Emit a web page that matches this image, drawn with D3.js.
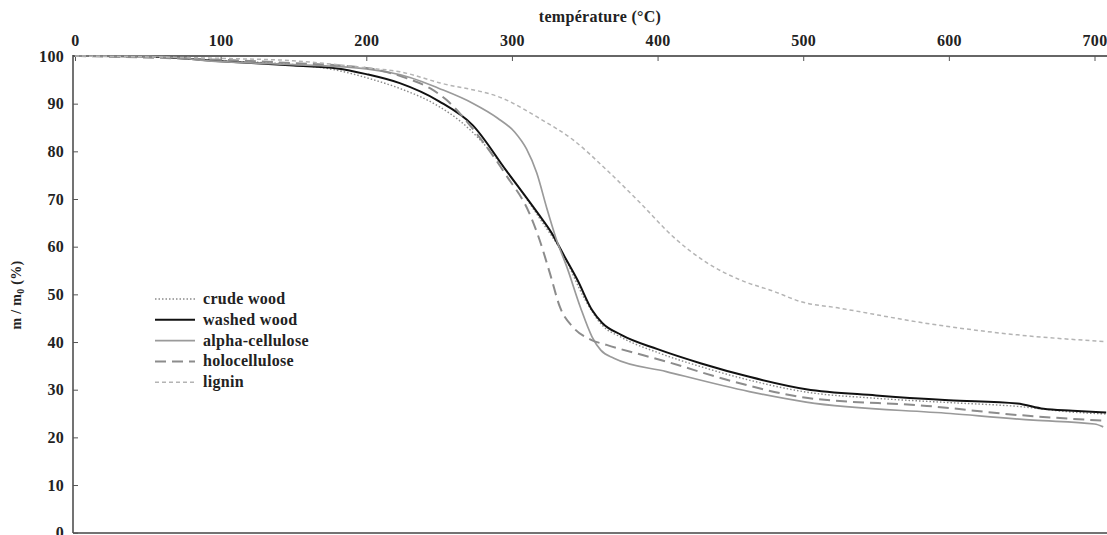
<!DOCTYPE html>
<html>
<head>
<meta charset="utf-8">
<script src="https://cdn.jsdelivr.net/npm/d3@7"></script>
<style>
  body { margin: 0; background: #fff; }
  svg { display: block; }
  .tick text, .lbl { font-family: "Liberation Serif", "DejaVu Serif", serif; font-weight: bold; fill: #222; letter-spacing: 0.3px; }
  .curve { fill: none; }
</style>
</head>
<body>
<div id="chart"></div>
<script>
// temperature (°C) / mass ratio (%)
var crudeWood = [[0,100],[50,99.9],[100,99],[150,98.2],[180,97],[205,95],[223,93.2],[250,89.4],[265,86.2],[296,76],[320,65.5],[335,58.5],[350,49],[362,43.5],[375,41],[400,37.8],[430,34.8],[463,32],[502,29.5],[550,28.2],[600,27.3],[647,26.5],[685,25.3],[708,24.9]];
var washedWood = [[0,100],[50,99.9],[100,98.9],[150,98],[180,97.4],[200,96.2],[223,94.3],[250,90.5],[273,85.5],[296,76],[319,66.5],[327,63],[336,58],[345,53],[355,46.7],[362,44],[375,41.5],[400,38.5],[430,35.5],[463,32.7],[502,30.1],[550,28.8],[600,27.8],[647,27.1],[665,26],[685,25.6],[708,25.2]];
var alphaCellulose = [[0,100],[50,100],[100,98.8],[150,98.2],[200,97.3],[230,95.5],[250,93.2],[273,90.1],[290,87],[302,84],[310,80.5],[317,75.5],[324,68],[330,62],[338,55.5],[347,47.3],[355,41.1],[361,38.3],[370,36.6],[406,33.8],[463,29.6],[502,27.4],[601,25],[658,23.6],[700,22.8],[706,22.2]];
var holocellulose = [[0,100],[100,99.2],[150,98.5],[200,97.5],[228,95.3],[244,93.2],[255,90.8],[275,84],[296,75],[312,67],[319,61.4],[326,54.5],[333,47.3],[342,43.1],[354,40.5],[365,39.4],[406,35.9],[452,31.7],[502,28.3],[585,26.6],[647,24.7],[706,23.5]];
var lignin = [[0,100],[100,99.5],[150,99],[200,97.5],[223,96.7],[250,94.4],[296,90.8],[319,86.9],[342,82.4],[365,76.1],[388,69.2],[411,62],[434,56.6],[457,53],[480,50.6],[498,48.5],[525,47.1],[585,43.9],[647,41.5],[707,40.1]];

var seriesNames = ['crude wood','washed wood','alpha-cellulose','holocellulose','lignin'];
var xTicks = [0,100,200,300,400,500,600,700];
var yTicks = [0,10,20,30,40,50,60,70,80,90,100];

var width = 1107, height = 535;

var styles = [
  {stroke:'#8a8a8a', w:1.4, dash:'1.5,2'},
  {stroke:'#111',    w:2.0, dash:null},
  {stroke:'#9a9a9a', w:1.7, dash:null},
  {stroke:'#8c8c8c', w:2.0, dash:'11,6'},
  {stroke:'#b4b4b4', w:1.5, dash:'4,3'}
];
var allData = [crudeWood, washedWood, alphaCellulose, holocellulose, lignin];

var x = d3.scaleLinear().domain([0,700]).range([75,1094.5]);
var y = d3.scaleLinear().domain([0,100]).range([532.7,56]);

var svg = d3.select('#chart').append('svg')
  .attr('width', width).attr('height', height);

svg.append('clipPath').attr('id','clip')
  .append('rect').attr('x',73).attr('y',50).attr('width',width-73).attr('height',height-50);

// frame lines
svg.append('line').attr('x1',73).attr('x2',width).attr('y1',56).attr('y2',56)
  .attr('stroke','#666').attr('stroke-width',2);
svg.append('line').attr('x1',73).attr('x2',73).attr('y1',55).attr('y2',533)
  .attr('stroke','#444').attr('stroke-width',1.5);
svg.append('line').attr('x1',73).attr('x2',width).attr('y1',533).attr('y2',533)
  .attr('stroke','#444').attr('stroke-width',1.5);

// x axis (top)
var gx = svg.append('g').attr('transform','translate(0,56)')
  .call(d3.axisTop(x).tickValues(xTicks).tickSizeInner(-5).tickSizeOuter(0).tickPadding(10));
gx.select('.domain').remove();
gx.selectAll('.tick line').attr('stroke','#555');
gx.selectAll('.tick text').attr('font-size',16).attr('y',-10);

// y axis
var gy = svg.append('g').attr('transform','translate(73,0)')
  .call(d3.axisLeft(y).tickValues(yTicks).tickSizeInner(-5).tickSizeOuter(0).tickPadding(9));
gy.select('.domain').remove();
gy.selectAll('.tick line').attr('stroke','#555');
gy.selectAll('.tick text').attr('font-size',16);

// titles
svg.append('text').attr('class','lbl')
  .attr('x',600).attr('y',22).attr('text-anchor','middle').attr('font-size',16)
  .text('température (°C)');

var yl = svg.append('text').attr('class','lbl')
  .attr('transform','translate(21,295) rotate(-90)')
  .attr('text-anchor','middle').attr('font-size',14);
yl.append('tspan').text('m / m');
yl.append('tspan').attr('font-size',10).attr('dy',3).text('0');
yl.append('tspan').attr('dy',-3).text(' (%)');

// curves
var line = d3.line()
  .x(function (d) { return x(d[0]); })
  .y(function (d) { return y(d[1]); })
  .curve(d3.curveMonotoneX);

var plot = svg.append('g').attr('clip-path','url(#clip)');
allData.forEach(function (data, i) {
  plot.append('path')
    .attr('class','curve')
    .attr('d', line(data))
    .attr('stroke', styles[i].stroke)
    .attr('stroke-width', styles[i].w)
    .attr('stroke-dasharray', styles[i].dash);
});

// legend
var legend = svg.append('g').attr('transform','translate(155,299)');
seriesNames.forEach(function (name, i) {
  var row = legend.append('g').attr('transform','translate(0,'+(i*20.8)+')');
  row.append('line').attr('x1',0).attr('x2',40).attr('y1',0).attr('y2',0)
    .attr('stroke', styles[i].stroke)
    .attr('stroke-width', styles[i].w)
    .attr('stroke-dasharray', styles[i].dash);
  row.append('text').attr('class','lbl')
    .attr('x',48).attr('y',5).attr('font-size',16)
    .text(name);
});
</script>
</body>
</html>
